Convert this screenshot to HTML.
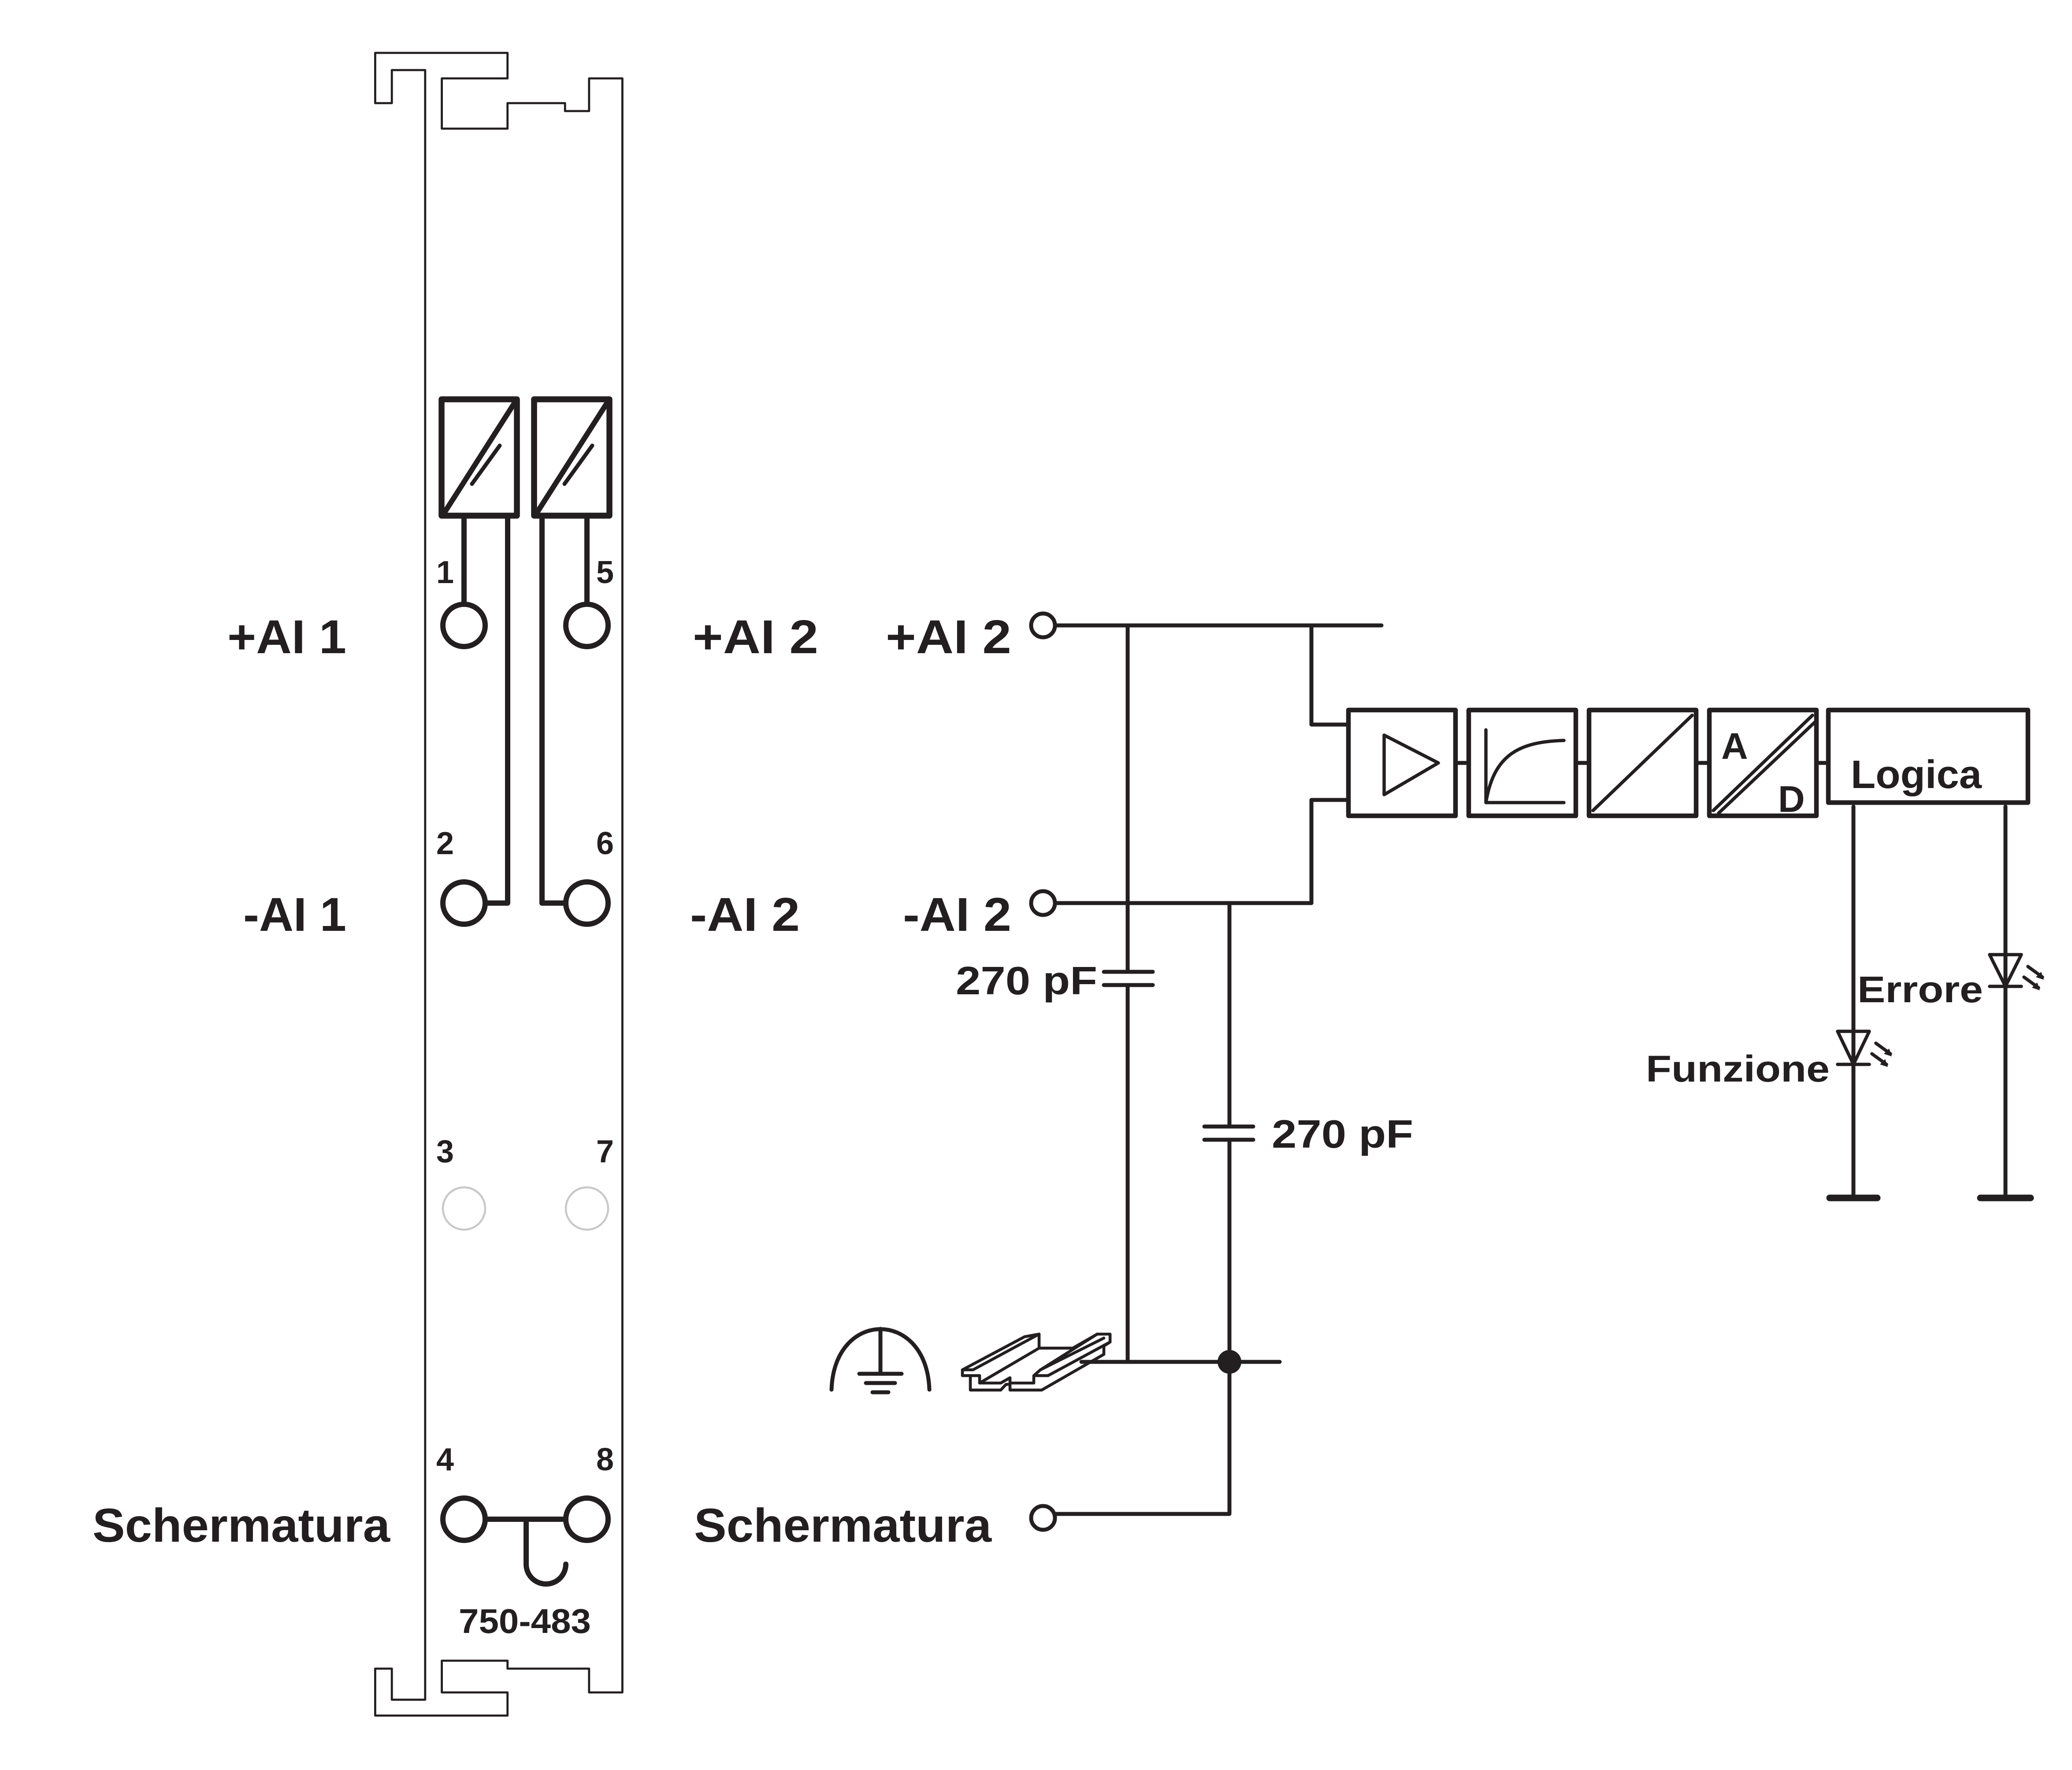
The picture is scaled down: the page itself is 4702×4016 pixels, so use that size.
<!DOCTYPE html>
<html><head><meta charset="utf-8"><style>
html,body{margin:0;padding:0;background:#fff}
svg{display:block}
text{font-family:"Liberation Sans",sans-serif;font-weight:bold;fill:#231f20}
</style></head><body>
<svg width="4702" height="4016" viewBox="0 0 1567.33 1338.67" xmlns="http://www.w3.org/2000/svg">
<g fill="none" stroke="#231f20" stroke-linecap="round" stroke-linejoin="round">
<path stroke-width="1.6" d="M321.6,1285.5 V53 H296.4 V78 H283.8 V40 H383.9 V59.3 H334.2 V97.3 H383.9 V78 H427.4 V84 H445.6 V59.3 H470.8 V1280 H445.6 V1262 H383.9 V1256 H334.2 V1280 H383.9 V1297.5 H283.8 V1262 H296.4 V1285.5 Z"/>
<rect x="334" y="302" width="57" height="88" stroke-width="4.5"/>
<line x1="336" y1="388" x2="389" y2="305" stroke-width="4"/>
<line x1="357" y1="366" x2="378" y2="337" stroke-width="3"/>
<rect x="404" y="302" width="57" height="88" stroke-width="4.5"/>
<line x1="406" y1="388" x2="459" y2="305" stroke-width="4"/>
<line x1="427" y1="366" x2="448" y2="337" stroke-width="3"/>
<g stroke-width="4">
<line x1="351" y1="390" x2="351" y2="457"/>
<path d="M384,390 V683 H367"/>
<line x1="444" y1="390" x2="444" y2="457"/>
<path d="M410,390 V683 H428"/>
<circle cx="351" cy="473" r="16"/>
<circle cx="444" cy="473" r="16"/>
<circle cx="351" cy="683" r="16"/>
<circle cx="444" cy="683" r="16"/>
<circle cx="351" cy="1149" r="16"/>
<circle cx="444" cy="1149" r="16"/>
<line x1="367" y1="1149" x2="428" y2="1149"/>
<path d="M398,1149 V1183 A15,15 0 0 0 428,1183"/>
</g>
<circle cx="351" cy="914" r="16" stroke="#c8c8c8" stroke-width="1.5"/>
<circle cx="444" cy="914" r="16" stroke="#c8c8c8" stroke-width="1.5"/>
<g stroke-width="3">
<circle cx="789" cy="473" r="9"/>
<circle cx="789" cy="683" r="9"/>
<circle cx="789" cy="1148" r="9"/>
<line x1="798" y1="473" x2="1045" y2="473"/>
<line x1="798" y1="683" x2="992" y2="683"/>
<path d="M853,473 V735 M835,735 H872 M835,745 H872 M853,745 V1030"/>
<path d="M930,683 V852 M911,852 H948 M911,862 H948 M930,862 V1145 H798"/>
<line x1="818" y1="1030" x2="968" y2="1030"/>
<path d="M992,473 V548 H1020 M992,683 V605 H1020"/>
<path d="M1101,577 H1111 M1192,577 H1202 M1283,577 H1293 M1374,577 H1383"/>
<line x1="1402" y1="610" x2="1402" y2="906"/>
<line x1="1517" y1="610" x2="1517" y2="906"/>
</g>
<circle cx="930" cy="1030" r="9" fill="#231f20" stroke="none"/>
<g stroke-width="5">
<line x1="1384" y1="906" x2="1420" y2="906"/>
<line x1="1498" y1="906" x2="1536" y2="906"/>
</g>
<g stroke-width="3.5">
<rect x="1020" y="537" width="81" height="80"/>
<rect x="1111" y="537" width="81" height="80"/>
<rect x="1202" y="537" width="81" height="80"/>
<rect x="1293" y="537" width="81" height="80"/>
<rect x="1383" y="537" width="151" height="70"/>
</g>
<g stroke-width="2.5">
<path d="M1047,556 L1088,577 L1047,601 Z"/>
<path d="M1124,552 V607 H1183 M1124,607 C1130,570 1150,561 1183,560"/>
<line x1="1205" y1="613" x2="1280" y2="541"/>
<line x1="1296" y1="613" x2="1371" y2="541"/>
<line x1="1300" y1="615" x2="1373" y2="546"/>
</g>
<g stroke-width="3">
<path d="M629,1051 C631,990 701,990 703,1051"/>
<line x1="666" y1="1005" x2="666" y2="1039"/>
<line x1="650" y1="1039" x2="682" y2="1039"/>
<line x1="655" y1="1046" x2="677" y2="1046"/>
<line x1="660" y1="1053" x2="672" y2="1053"/>
</g>
<!-- DIN rail -->
<g stroke-width="2.2">
<path d="M728,1036 L775,1011 L786,1009 V1019.6 H811.5 L830,1009 H839.7 V1015 L835,1018 V1024.3 L788,1051.3 H764 V1047 L761,1047 L757,1051.3 H734 V1040.4 H728 Z"/>
<path d="M734,1040.4 H741 V1046 H757 L764,1042 V1046 H782 V1040.4 H792.8 L839.7,1015 M728,1036 H736 L786,1009 M741,1046 L786,1019.6 M782,1040.4 L787,1036 L835,1012 M787,1036 L830,1009"/>
</g>
<g stroke-width="2.5">
<path d="M1390,780 H1414 L1402,805 Z M1390,805 H1414"/>
<path d="M1505,722 H1529 L1517,746 Z M1505,746 H1529"/>
<path d="M1419,789 L1430,797 M1416,797 L1427,805"/>
<path d="M1534,731 L1545,739 M1531,739 L1542,747"/>
</g>
</g>
<g font-size="24">
<text x="330" y="441">1</text>
<text x="451" y="441">5</text>
<text x="330" y="646">2</text>
<text x="451" y="646">6</text>
<text x="330" y="879">3</text>
<text x="451" y="879">7</text>
<text x="330" y="1112">4</text>
<text x="451" y="1112">8</text>
<text x="347" y="1235" font-size="26" textLength="100" lengthAdjust="spacingAndGlyphs">750-483</text>
</g>
<g font-size="36">
<text x="172" y="494" textLength="90" lengthAdjust="spacingAndGlyphs">+AI 1</text>
<text x="184" y="704" textLength="78" lengthAdjust="spacingAndGlyphs">-AI 1</text>
<text x="70" y="1166" textLength="225" lengthAdjust="spacingAndGlyphs">Schermatura</text>
<text x="524" y="494" textLength="95" lengthAdjust="spacingAndGlyphs">+AI 2</text>
<text x="522" y="704" textLength="83" lengthAdjust="spacingAndGlyphs">-AI 2</text>
<text x="525" y="1166" textLength="225" lengthAdjust="spacingAndGlyphs">Schermatura</text>
<text x="670" y="494" textLength="95" lengthAdjust="spacingAndGlyphs">+AI 2</text>
<text x="683" y="704" textLength="82" lengthAdjust="spacingAndGlyphs">-AI 2</text>
</g>
<g font-size="30">
<text x="723" y="752" textLength="107" lengthAdjust="spacingAndGlyphs">270 pF</text>
<text x="962" y="868" textLength="107" lengthAdjust="spacingAndGlyphs">270 pF</text>
<text x="1400" y="596" textLength="99" lengthAdjust="spacingAndGlyphs">Logica</text>
<text x="1302" y="574" font-size="28">A</text>
<text x="1345" y="614" font-size="28">D</text>
<text x="1245" y="818" font-size="28" textLength="139" lengthAdjust="spacingAndGlyphs">Funzione</text>
<text x="1405" y="758" font-size="28" textLength="95" lengthAdjust="spacingAndGlyphs">Errore</text>
</g>
<g fill="#231f20" stroke="none">
<path d="M1431,799 l-2,-6 l-4,4 Z M1428,807 l-2,-6 l-4,4 Z M1546,741 l-2,-6 l-4,4 Z M1543,749 l-2,-6 l-4,4 Z"/>
</g>
</svg>
</body></html>
